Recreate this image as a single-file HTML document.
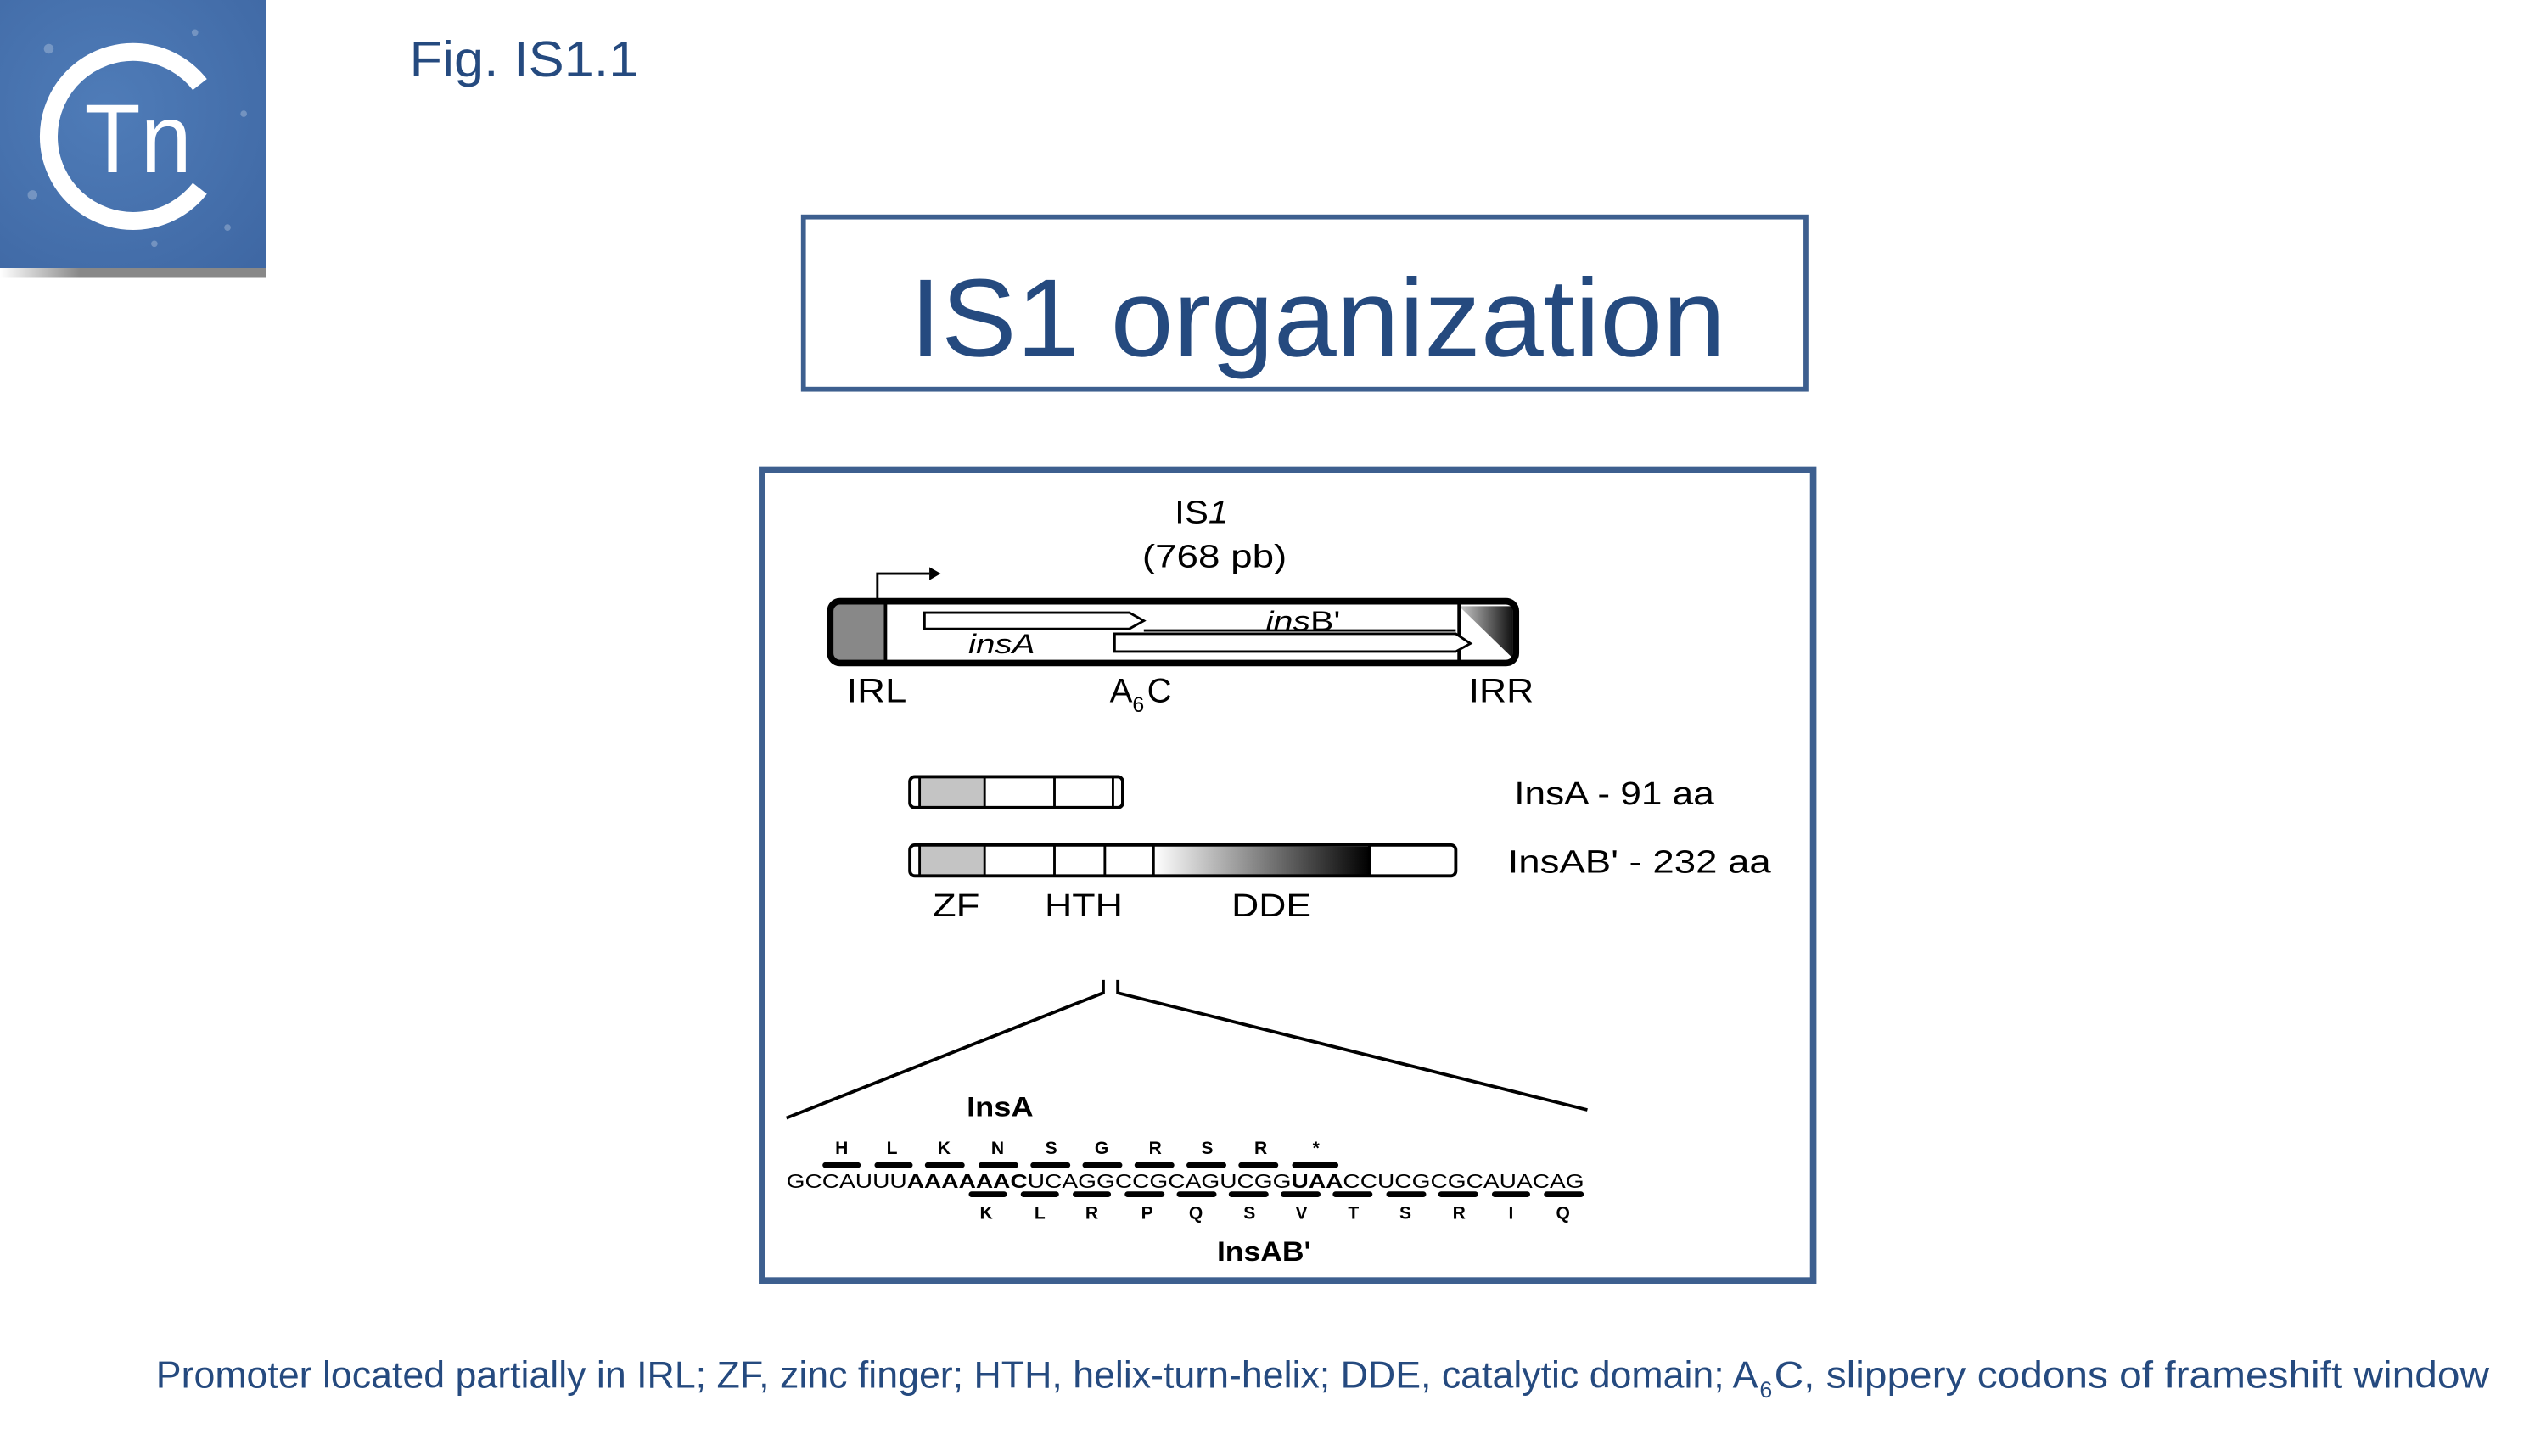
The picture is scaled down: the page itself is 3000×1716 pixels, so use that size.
<!DOCTYPE html>
<html><head><meta charset="utf-8">
<style>
html,body{margin:0;padding:0;background:#fff;width:3000px;height:1716px;overflow:hidden}
svg{display:block}
text{font-family:"Liberation Sans",sans-serif}
</style></head>
<body>
<svg width="3000" height="1716" viewBox="0 0 1567 896" preserveAspectRatio="none" xmlns="http://www.w3.org/2000/svg">
<defs>
<linearGradient id="lg" x1="0" x2="1"><stop offset="0" stop-color="#fff"/><stop offset="1" stop-color="#000"/></linearGradient>
<linearGradient id="rr" x1="0" x2="1"><stop offset="0" stop-color="#ccc"/><stop offset="1" stop-color="#111"/></linearGradient>
<linearGradient id="bar" x1="0" x2="1"><stop offset="0" stop-color="#fff"/><stop offset="0.3" stop-color="#888"/><stop offset="1" stop-color="#888"/></linearGradient>
<radialGradient id="bg" cx="0.4" cy="0.4" r="0.8"><stop offset="0" stop-color="#4f7cb8"/><stop offset="1" stop-color="#3f68a4"/></radialGradient>
</defs>
<rect x="0" y="0" width="164" height="166" fill="url(#bg)"/>
<rect x="0" y="165" width="164" height="6" fill="url(#bar)"/>
<g fill="#ffffff" opacity="0.25">
<circle cx="30" cy="30" r="3"/><circle cx="120" cy="20" r="2"/><circle cx="150" cy="70" r="2"/><circle cx="20" cy="120" r="3"/><circle cx="140" cy="140" r="2"/><circle cx="95" cy="150" r="2"/>
</g>
<path d="M 123 52 A 52 52 0 1 0 123 116" fill="none" stroke="#fff" stroke-width="11"/>
<text x="52" y="106" font-size="60" fill="#fff" textLength="66" lengthAdjust="spacingAndGlyphs">Tn</text>

<text x="252" y="47" font-size="31" fill="#254a7f" textLength="141" lengthAdjust="spacingAndGlyphs">Fig. IS1.1</text>

<rect x="494.5" y="133.5" width="617" height="106" fill="none" stroke="#3d5f8f" stroke-width="3"/>
<text x="560" y="219" font-size="68" fill="#254a7f" textLength="502" lengthAdjust="spacingAndGlyphs">IS1 organization</text>

<rect x="469" y="289" width="647" height="499" fill="#fff" stroke="#3d5f8f" stroke-width="4"/>

<text x="723" y="322" font-size="20" fill="#000" textLength="33" lengthAdjust="spacingAndGlyphs">IS<tspan font-style="italic">1</tspan></text>
<text x="703" y="349" font-size="20" fill="#000" textLength="89" lengthAdjust="spacingAndGlyphs">(768 pb)</text>

<path d="M540 371 V353 H572" fill="none" stroke="#000" stroke-width="1.5"/>
<path d="M572 349 L579 353 L572 357 Z" fill="#000"/>
<rect x="511" y="370" width="34" height="38" rx="5" fill="#888"/>
<path d="M898 373 L931 373 L931 405 Z" fill="url(#rr)"/>
<rect x="511" y="370" width="422" height="38" rx="6" fill="none" stroke="#000" stroke-width="4"/>
<line x1="545" y1="371" x2="545" y2="407" stroke="#000" stroke-width="2"/>
<line x1="898" y1="371" x2="898" y2="407" stroke="#000" stroke-width="2"/>
<path d="M569 377 H695 L704 382 L695 387 H569 Z" fill="#fff" stroke="#000" stroke-width="1.5"/>
<path d="M686 390 H896 L905 396 L896 401 H686 Z" fill="#fff" stroke="#000" stroke-width="1.5"/>
<line x1="704" y1="388" x2="896" y2="388" stroke="#000" stroke-width="1.5"/>
<text x="596" y="402" font-size="17" font-style="italic" fill="#000" textLength="41" lengthAdjust="spacingAndGlyphs">insA</text>
<text x="779" y="388" font-size="17" fill="#000" textLength="46" lengthAdjust="spacingAndGlyphs"><tspan font-style="italic">ins</tspan>B'</text>
<text x="521" y="432" font-size="21" fill="#000" textLength="37" lengthAdjust="spacingAndGlyphs">IRL</text>
<text x="683" y="432" font-size="21" fill="#000">A</text>
<text x="697" y="438" font-size="13" fill="#000">6</text>
<text x="706" y="432" font-size="21" fill="#000">C</text>
<text x="904" y="432" font-size="21" fill="#000" textLength="40" lengthAdjust="spacingAndGlyphs">IRR</text>

<rect x="566" y="479" width="40" height="18" fill="#c4c4c4"/>
<rect x="560" y="478" width="131" height="19" rx="3" fill="none" stroke="#000" stroke-width="2"/>
<line x1="566" y1="478" x2="566" y2="497" stroke="#000" stroke-width="1.5"/>
<line x1="606" y1="478" x2="606" y2="497" stroke="#000" stroke-width="1.5"/>
<line x1="649" y1="478" x2="649" y2="497" stroke="#000" stroke-width="1.5"/>
<line x1="685" y1="478" x2="685" y2="497" stroke="#000" stroke-width="1.5"/>
<text x="932" y="495" font-size="20" fill="#000" textLength="123" lengthAdjust="spacingAndGlyphs">InsA - 91 aa</text>

<rect x="566" y="521" width="40" height="18" fill="#c4c4c4"/>
<rect x="710" y="521" width="133" height="18" fill="url(#lg)"/>
<rect x="560" y="520" width="336" height="19" rx="3" fill="none" stroke="#000" stroke-width="2"/>
<line x1="566" y1="520" x2="566" y2="539" stroke="#000" stroke-width="1.5"/>
<line x1="606" y1="520" x2="606" y2="539" stroke="#000" stroke-width="1.5"/>
<line x1="649" y1="520" x2="649" y2="539" stroke="#000" stroke-width="1.5"/>
<line x1="680" y1="520" x2="680" y2="539" stroke="#000" stroke-width="1.5"/>
<line x1="710" y1="520" x2="710" y2="539" stroke="#000" stroke-width="1.5"/>
<line x1="843" y1="520" x2="843" y2="539" stroke="#000" stroke-width="2"/>
<text x="928" y="537" font-size="20" fill="#000" textLength="162" lengthAdjust="spacingAndGlyphs">InsAB' - 232 aa</text>
<text x="574" y="564" font-size="20" fill="#000" textLength="29" lengthAdjust="spacingAndGlyphs">ZF</text>
<text x="643" y="564" font-size="20" fill="#000" textLength="48" lengthAdjust="spacingAndGlyphs">HTH</text>
<text x="758" y="564" font-size="20" fill="#000" textLength="49" lengthAdjust="spacingAndGlyphs">DDE</text>

<path d="M679 603 V611 L484 688" fill="none" stroke="#000" stroke-width="2"/>
<path d="M688 603 V611 L977 683" fill="none" stroke="#000" stroke-width="2"/>

<text x="595" y="687" font-size="17" font-weight="bold" fill="#000" textLength="41" lengthAdjust="spacingAndGlyphs">InsA</text>
<g font-size="11" font-weight="bold" fill="#000" text-anchor="middle">
<text x="518" y="710">H</text><text x="549" y="710">L</text><text x="581" y="710">K</text><text x="614" y="710">N</text><text x="647" y="710">S</text><text x="678" y="710">G</text><text x="711" y="710">R</text><text x="743" y="710">S</text><text x="776" y="710">R</text><text x="810" y="710">*</text>
</g>
<g stroke="#000" stroke-width="3.5" stroke-linecap="round">
<line x1="508" y1="717" x2="528" y2="717"/><line x1="540" y1="717" x2="560" y2="717"/><line x1="571" y1="717" x2="592" y2="717"/><line x1="604" y1="717" x2="625" y2="717"/><line x1="636" y1="717" x2="657" y2="717"/><line x1="668" y1="717" x2="689" y2="717"/><line x1="700" y1="717" x2="721" y2="717"/><line x1="732" y1="717" x2="753" y2="717"/><line x1="764" y1="717" x2="785" y2="717"/><line x1="797" y1="717" x2="822" y2="717"/>
<line x1="598" y1="735" x2="618" y2="735"/><line x1="630" y1="735" x2="650" y2="735"/><line x1="662" y1="735" x2="682" y2="735"/><line x1="694" y1="735" x2="715" y2="735"/><line x1="726" y1="735" x2="747" y2="735"/><line x1="758" y1="735" x2="779" y2="735"/><line x1="790" y1="735" x2="811" y2="735"/><line x1="822" y1="735" x2="843" y2="735"/><line x1="855" y1="735" x2="876" y2="735"/><line x1="887" y1="735" x2="908" y2="735"/><line x1="920" y1="735" x2="940" y2="735"/><line x1="952" y1="735" x2="973" y2="735"/>
</g>
<text x="484" y="731" font-size="12" font-family="Liberation Serif, serif" fill="#000" textLength="491" lengthAdjust="spacingAndGlyphs">GCCAUUU<tspan font-weight="bold">AAAAAAC</tspan>UCAGGCCGCAGUCGG<tspan font-weight="bold">UAA</tspan>CCUCGCGCAUACAG</text>
<g font-size="11" font-weight="bold" fill="#000" text-anchor="middle">
<text x="607" y="750">K</text><text x="640" y="750">L</text><text x="672" y="750">R</text><text x="706" y="750">P</text><text x="736" y="750">Q</text><text x="769" y="750">S</text><text x="801" y="750">V</text><text x="833" y="750">T</text><text x="865" y="750">S</text><text x="898" y="750">R</text><text x="930" y="750">I</text><text x="962" y="750">Q</text>
</g>
<text x="749" y="776" font-size="17" font-weight="bold" fill="#000" textLength="58" lengthAdjust="spacingAndGlyphs">InsAB'</text>

<text x="96" y="854" font-size="23" fill="#254a7f" textLength="986" lengthAdjust="spacingAndGlyphs">Promoter located partially in IRL; ZF, zinc finger; HTH, helix-turn-helix; DDE, catalytic domain; A</text>
<text x="1083" y="860" font-size="14" fill="#254a7f">6</text>
<text x="1092" y="854" font-size="23" fill="#254a7f" textLength="440" lengthAdjust="spacingAndGlyphs">C, slippery codons of frameshift window</text>
</svg>
</body></html>
